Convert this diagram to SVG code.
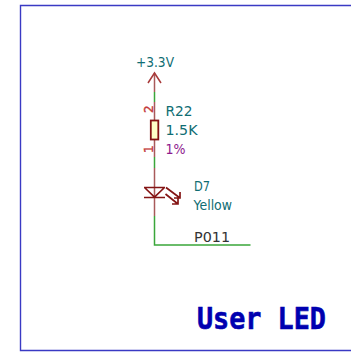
<svg xmlns="http://www.w3.org/2000/svg" width="351" height="360" viewBox="0 0 351 360">
<style>
text{font-family:"DejaVu Sans","Liberation Sans",sans-serif}
.t{fill:#0f6d73}
.s{fill:none;stroke:#a85a5a;stroke-width:1.5}
.d{fill:none;stroke:#841414;stroke-width:1.7}
.w{fill:none;stroke:#3aa63a;stroke-width:1.5}
.p{fill:#c43a3a;stroke:#c43a3a;stroke-width:.4;font-size:12px}
</style>
<rect width="351" height="360" fill="#fff"/>
<path d="M351 5.500H20.500V350.500H351" fill="none" stroke="#3a3ac4" stroke-width="1.4"/>
<g id="connectors">
<path class="w" d="M154.500 92V102"/>
<path class="w" d="M154.500 157V168"/>
<path class="w" d="M154.500 216V245H250.500"/>
</g>
<g id="power">
<path class="s" d="M154.500 92V73"/>
<path class="d" d="M148 83L154.500 73L161 83" style="stroke:#a83a3a;stroke-width:1.5"/>
<text x="136" y="67" class="t" textLength="38" lengthAdjust="spacingAndGlyphs" style="font-size:13.500px">+3.3V</text>
</g>
<g id="R22">
<path class="s" d="M154.500 102V120M154.500 140V157"/>
<rect x="150.800" y="120.500" width="7.500" height="19" fill="#ffffc8" stroke="#841414" stroke-width="1.8"/>
<text class="p" transform="translate(152.500 113) rotate(-90)">2</text>
<text class="p" transform="translate(152.500 153) rotate(-90)">1</text>
<text x="165.500" y="116" class="t" textLength="27" lengthAdjust="spacingAndGlyphs" style="font-size:14.500px">R22</text>
<text x="165.500" y="135" class="t" textLength="32" lengthAdjust="spacingAndGlyphs" style="font-size:14.500px">1.5K</text>
<text x="165.500" y="154" textLength="20" lengthAdjust="spacingAndGlyphs" style="font-size:14.500px" fill="#8e1a8e">1%</text>
</g>
<g id="D7">
<path class="s" d="M154.500 168V216"/>
<path class="d" d="M144 187.500H165M144.500 187.500L154.500 197L164.500 187.500M144 197.500H165"/>
<path class="d" d="M166 187.500L180 198M180 192L180 198L174 198M165.500 194L178 204M178 198L178 204L172 204"/>
<text x="194" y="191" class="t" textLength="16" lengthAdjust="spacingAndGlyphs" style="font-size:14px">D7</text>
<text x="193.500" y="210" class="t" textLength="38.500" lengthAdjust="spacingAndGlyphs" style="font-size:14px">Yellow</text>
</g>
<g id="P011">
<text x="194" y="241.500" textLength="36" lengthAdjust="spacingAndGlyphs" style="font-size:14px" fill="#333">P011</text>
</g>
<text x="197" y="329" style="font-family:'DejaVu Sans Mono',monospace;font-size:30px;font-weight:700" stroke="#0000b0" stroke-width=".6" fill="#0000b0" textLength="129" lengthAdjust="spacingAndGlyphs">User LED</text>
</svg>
